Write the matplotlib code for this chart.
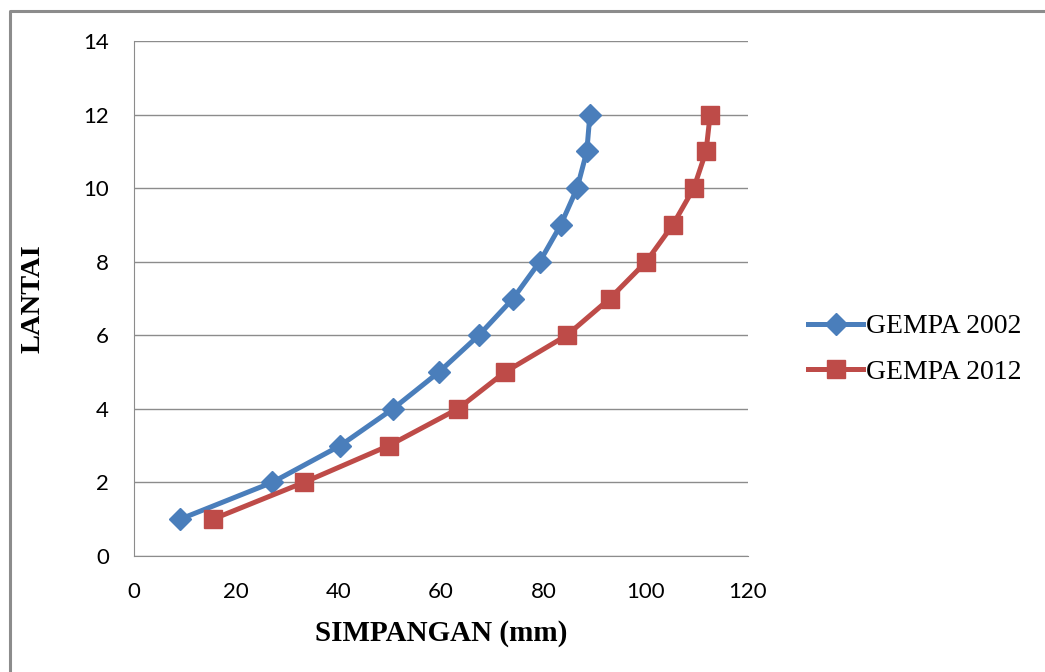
import matplotlib.pyplot as plt
from matplotlib.lines import Line2D

lantai = [1, 2, 3, 4, 5, 6, 7, 8, 9, 10, 11, 12]
gempa_2002 = [9.0, 27.0, 40.3, 50.6, 59.6, 67.4, 74.1, 79.3, 83.4, 86.6, 88.5, 89.1]
gempa_2012 = [15.4, 33.2, 49.8, 63.3, 72.5, 84.6, 93.0, 100.1, 105.3, 109.4, 111.8, 112.6]

fig = plt.figure(figsize=(10.45, 6.72), dpi=100)
ax = fig.add_axes([0.1282, 0.1726, 0.5876, 0.7664])

# chart border (only top and left edges are visible in the crop)
fig.lines.append(Line2D([0.0096, 0.0096, 1.0], [0.0, 0.9836, 0.9836], transform=fig.transFigure,
                        color='#8c8c8c', linewidth=2.2))

ax.plot(gempa_2002, lantai, color='#4a7ebb', linewidth=3.6, marker='D', markersize=11.5,
        label='GEMPA 2002')
ax.plot(gempa_2012, lantai, color='#be4b48', linewidth=3.6, marker='s', markersize=13.5,
        label='GEMPA 2012')

ax.set_xlim(0, 120)
ax.set_ylim(0, 14)
ax.set_xticks(range(0, 121, 20))
ax.set_yticks(range(0, 15, 2))
ax.grid(axis='y', color='#8c8c8c', linewidth=1)
ax.set_axisbelow(True)
for side in ['top', 'right']:
    ax.spines[side].set_visible(False)
for side in ['left', 'bottom']:
    ax.spines[side].set_color('#8c8c8c')
ax.tick_params(length=0, labelsize=16)
for lbl in ax.get_xticklabels() + ax.get_yticklabels():
    lbl.set_family('Lato')
ax.tick_params(axis='y', pad=18)
ax.tick_params(axis='x', pad=19)

ax.set_xlabel('SIMPANGAN (mm)', family='Liberation Serif', fontweight='bold', fontsize=21,
              labelpad=13)
ax.set_ylabel('LANTAI', family='Liberation Serif', fontweight='bold', fontsize=20.5,
              labelpad=27)

ax.legend(loc='center left', bbox_to_anchor=(0.773, 0.48), bbox_transform=fig.transFigure,
          frameon=False, prop={'family': 'Liberation Serif', 'size': 20}, handlelength=2.0,
          labelspacing=0.72, handletextpad=0.1, borderpad=0, borderaxespad=0)

fig.savefig('out.png', dpi=100)
